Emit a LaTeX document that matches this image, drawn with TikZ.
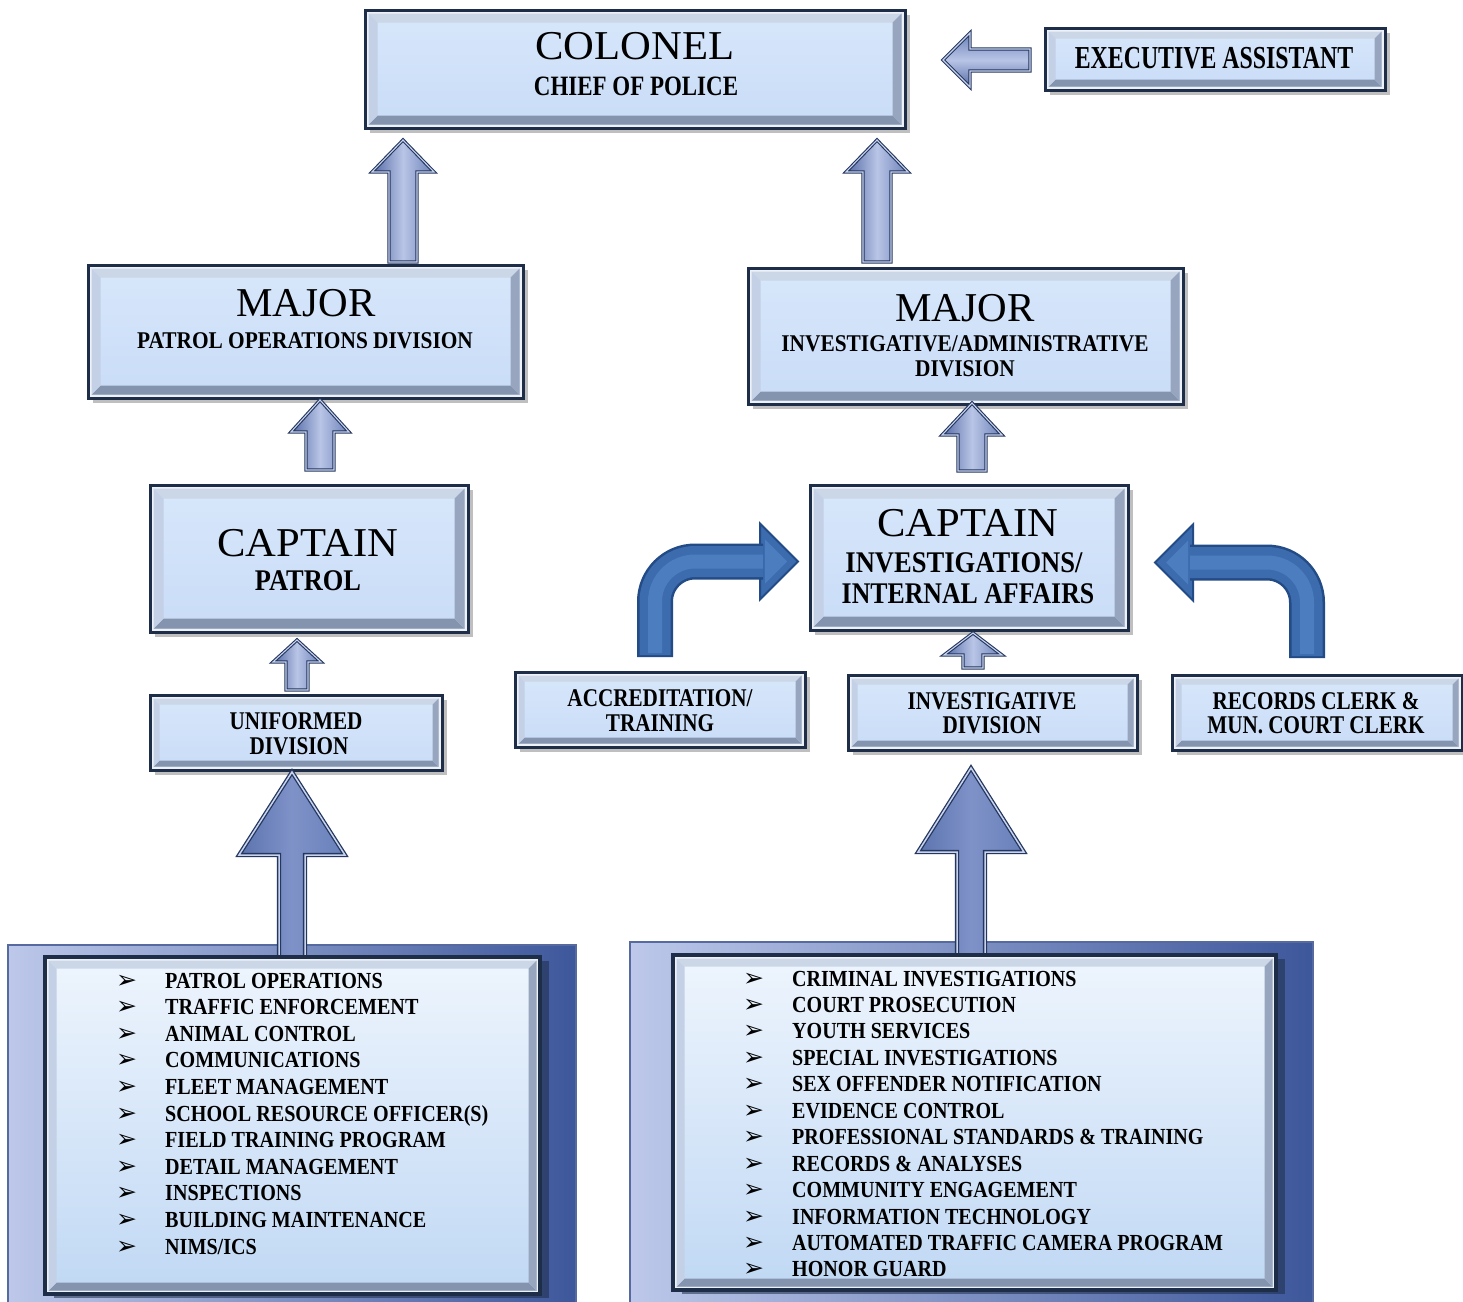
\documentclass[tikz,border=0pt]{standalone}
\usepackage{fontspec}
\setmainfont{Liberation Serif}
\newfontfamily\dejavu{DejaVu Sans}
\usepackage{graphicx}
\usetikzlibrary{calc,shadows}

\definecolor{bordc}{HTML}{1E2D48}
\definecolor{ringc}{HTML}{EEF2F7}
\definecolor{bevT}{HTML}{CBD6E7}
\definecolor{bevL}{HTML}{C3D0E6}
\definecolor{bevR}{HTML}{97A5BE}
\definecolor{bevB}{HTML}{8494AF}
\definecolor{faceT}{HTML}{D7E7FB}
\definecolor{faceB}{HTML}{C9DCF7}
\definecolor{arrD}{HTML}{24375F}
\definecolor{arrL}{HTML}{546AA6}
\definecolor{arrM}{HTML}{B9C5E6}
\definecolor{arrR}{HTML}{6A80B8}
\definecolor{arrH}{HTML}{C9D3EE}
\definecolor{bigL}{HTML}{5B73AE}
\definecolor{bigM}{HTML}{7F92C8}
\definecolor{bigR}{HTML}{6780B9}
\definecolor{cvD}{HTML}{234B86}
\definecolor{cvM}{HTML}{3C6CAE}
\definecolor{cvH}{HTML}{4C7DBE}
\definecolor{frL}{HTML}{BDC8EA}
\definecolor{frR}{HTML}{3D579B}
\definecolor{frE}{HTML}{566AA0}
\definecolor{listT}{HTML}{EEF5FD}
\definecolor{listB}{HTML}{C0D8F4}

\newcommand\cx[2]{\scalebox{#1}[1]{#2}}

\newcommand\bevels[1]{%
  \draw[ringc, line width=2pt] let \p1=(path picture bounding box.south west), \p2=(path picture bounding box.north east) in
    (\x1+2.5pt,\y1+2.5pt) rectangle (\x2-2.5pt,\y2-2.5pt);
  \fill[bevT] let \p1=(path picture bounding box.south west), \p2=(path picture bounding box.north east) in
    (\x1+3.5pt,\y2-3.5pt) -- (\x2-3.5pt,\y2-3.5pt) -- (\x2-3.5pt-#1pt,\y2-3.5pt-#1pt) -- (\x1+3.5pt+#1pt,\y2-3.5pt-#1pt) -- cycle;
  \fill[bevB] let \p1=(path picture bounding box.south west), \p2=(path picture bounding box.north east) in
    (\x1+3.5pt,\y1+3.5pt) -- (\x2-3.5pt,\y1+3.5pt) -- (\x2-3.5pt-#1pt,\y1+3.5pt+#1pt) -- (\x1+3.5pt+#1pt,\y1+3.5pt+#1pt) -- cycle;
  \fill[bevL] let \p1=(path picture bounding box.south west), \p2=(path picture bounding box.north east) in
    (\x1+3.5pt,\y1+3.5pt) -- (\x1+3.5pt,\y2-3.5pt) -- (\x1+3.5pt+#1pt,\y2-3.5pt-#1pt) -- (\x1+3.5pt+#1pt,\y1+3.5pt+#1pt) -- cycle;
  \fill[bevR] let \p1=(path picture bounding box.south west), \p2=(path picture bounding box.north east) in
    (\x2-3.5pt,\y1+3.5pt) -- (\x2-3.5pt,\y2-3.5pt) -- (\x2-3.5pt-#1pt,\y2-3.5pt-#1pt) -- (\x2-3.5pt-#1pt,\y1+3.5pt+#1pt) -- cycle;
}

\newcommand\uparr[6]{% style, base, tip, head half, shaft half, head length
  \draw[#1] let \p1=(#2), \p2=(#3) in
    (\x2-#5pt,\y1) -- (\x2-#5pt,\y2-#6pt) -- (\x2-#4pt,\y2-#6pt) -- (\x2,\y2)
    -- (\x2+#4pt,\y2-#6pt) -- (\x2+#5pt,\y2-#6pt) -- (\x2+#5pt,\y1) -- cycle;
}
\newcommand\leftarr[6]{% style, base, tip, head half, shaft half, head length
  \draw[#1] let \p1=(#2), \p2=(#3) in
    (\x1,\y2-#5pt) -- (\x2+#6pt,\y2-#5pt) -- (\x2+#6pt,\y2-#4pt) -- (\x2,\y2)
    -- (\x2+#6pt,\y2+#4pt) -- (\x2+#6pt,\y2+#5pt) -- (\x1,\y2+#5pt) -- cycle;
}

\tikzset{
  bev/.style={rectangle, draw=bordc, line width=3pt, top color=faceT, bottom color=faceB,
    inner sep=0pt, outer sep=0pt,
    general shadow={fill=black, opacity=0.25, shadow xshift=5pt, shadow yshift=-5pt},
    path picture={\bevels{#1}}},
  bev/.default=9,
  listbox/.style={rectangle, draw=bordc, line width=3.5pt, top color=listT, bottom color=listB,
    inner sep=0pt, outer sep=0pt,
    general shadow={fill=bordc, opacity=0.55, shadow xshift=9pt, shadow yshift=-4pt},
    path picture={\bevels{8}}},
  frame/.style={rectangle, draw=frE, line width=1.5pt, left color=frL, right color=frR,
    inner sep=0pt, outer sep=0pt},
  ttl/.style={font=\fontsize{41}{41}\selectfont, anchor=base, inner sep=0pt},
  sb/.style={font=\fontsize{#1}{#1}\selectfont\bfseries, anchor=base, inner sep=0pt},
  itm/.style={font=\fontsize{23}{23}\selectfont\bfseries, anchor=base west, inner sep=0pt},
  bul/.style={font=\dejavu\fontsize{25}{25}\selectfont, anchor=base west, inner sep=0pt},
  blk/.style={draw=arrD, line width=1.1pt, double=arrH, double distance=1.1pt, line join=miter,
    left color=arrL, right color=arrR, middle color=arrM},
  blkh/.style={draw=arrD, line width=1.1pt, double=arrH, double distance=1.1pt, line join=miter,
    top color=arrR, bottom color=arrL, middle color=arrM},
  blkbig/.style={draw=arrD, line width=1.3pt, double=arrH, double distance=1.5pt, line join=miter,
    left color=bigL, right color=bigR, middle color=bigM},
}

\begin{document}
\begin{tikzpicture}[x=1pt, y=-1pt]
\path[use as bounding box, fill=white] (0,0) rectangle (1463,1301);

% ---------- boxes ----------
\node[bev=9, minimum width=540pt, minimum height=118pt] (colonel) at (635,69) {};
\node[bev=7, minimum width=340pt, minimum height=62pt] (exec) at (1215,59) {};
\node[bev=9, minimum width=435pt, minimum height=133pt] (majL) at (305.5,331.5) {};
\node[bev=9, minimum width=435pt, minimum height=136pt] (majR) at (965.5,336) {};
\node[bev=10, minimum width=318pt, minimum height=147pt] (captL) at (309,558.5) {};
\node[bev=10, minimum width=318pt, minimum height=145pt] (captR) at (969,557.5) {};
\node[bev=6, minimum width=292pt, minimum height=75pt] (unif) at (296,732.5) {};
\node[bev=6, minimum width=290pt, minimum height=75pt] (accr) at (660,709.5) {};
\node[bev=6, minimum width=289pt, minimum height=75pt] (invdiv) at (992.5,712.5) {};
\node[bev=6, minimum width=290pt, minimum height=75pt] (rec) at (1317,712.5) {};

% ---------- box texts ----------
\node[ttl] (colT) at (635,59) {\cx{1.04}{COLONEL}};
\node[sb=28] (colS) at (636,95) {\cx{0.82}{CHIEF OF POLICE}};
\node[sb=32] (execT) at (1214,68) {\cx{0.745}{EXECUTIVE ASSISTANT}};
\node[ttl] (majLT) at (306,316) {MAJOR};
\node[sb=24] (majLS) at (305,348) {\cx{0.89}{PATROL OPERATIONS DIVISION}};
\node[ttl] (majRT) at (965,321) {MAJOR};
\node[sb=24] (majRS1) at (965,351) {\cx{0.89}{INVESTIGATIVE/ADMINISTRATIVE}};
\node[sb=24] (majRS2) at (965,376) {\cx{0.89}{DIVISION}};
\node[ttl] (capLT) at (308,556) {\cx{1.04}{CAPTAIN}};
\node[sb=30] (capLS) at (308,590) {\cx{0.88}{PATROL}};
\node[ttl] (capRT) at (968,536) {\cx{1.04}{CAPTAIN}};
\node[sb=30] (capRS1) at (964,572) {\cx{0.885}{INVESTIGATIONS/}};
\node[sb=30] (capRS2) at (968,603) {\cx{0.86}{INTERNAL AFFAIRS}};
\node[sb=25.5] (unifT1) at (296,729) {\cx{0.83}{UNIFORMED}};
\node[sb=25.5] (unifT2) at (299,754) {\cx{0.83}{DIVISION}};
\node[sb=25.5] (accrT1) at (660,706) {\cx{0.83}{ACCREDITATION/}};
\node[sb=25.5] (accrT2) at (660,731) {\cx{0.83}{TRAINING}};
\node[sb=25.5] (invT1) at (992,709) {\cx{0.83}{INVESTIGATIVE}};
\node[sb=25.5] (invT2) at (992,733) {\cx{0.83}{DIVISION}};
\node[sb=25.5] (recT1) at (1316,709) {\cx{0.83}{RECORDS CLERK \&}};
\node[sb=25.5] (recT2) at (1316,733) {\cx{0.83}{MUN. COURT CLERK}};

% ---------- list frames ----------
\node[frame, minimum width=568pt, minimum height=380pt, anchor=north west] (frameL) at (8,945) {};
\node[frame, minimum width=683pt, minimum height=380pt, anchor=north west] (frameR) at (630,942) {};

% ---------- big arrows into list frames ----------
\coordinate (xA7) at (292,0);
\coordinate (xA8) at (971,0);
\uparr{blkbig}{$(frameL.north -| xA7)+(0,14)$}{$(unif.south -| xA7)+(0,2)$}{53}{13}{83}
\uparr{blkbig}{$(frameR.north -| xA8)+(0,14)$}{$(invdiv.south -| xA8)+(0,18)$}{53}{14}{84}

% ---------- inner list boxes ----------
\node[listbox, minimum width=495pt, minimum height=337pt, anchor=north west] (listL) at (45,957) {};
\node[listbox, minimum width=603pt, minimum height=335pt, anchor=north west] (listR) at (673,955) {};

\foreach \t [count=\i from 0] in {PATROL OPERATIONS, TRAFFIC ENFORCEMENT, ANIMAL CONTROL,
  COMMUNICATIONS, FLEET MANAGEMENT, SCHOOL RESOURCE OFFICER(S), FIELD TRAINING PROGRAM,
  DETAIL MANAGEMENT, INSPECTIONS, BUILDING MAINTENANCE, NIMS/ICS} {
  \node[bul] (lb\i) at (116,{988+26.6*\i}) {➢};
  \node[itm] (li\i) at (165,{988+26.6*\i}) {\cx{0.875}{\t}};
}
\foreach \t [count=\i from 0] in {CRIMINAL INVESTIGATIONS, COURT PROSECUTION, YOUTH SERVICES,
  SPECIAL INVESTIGATIONS, SEX OFFENDER NOTIFICATION, EVIDENCE CONTROL,
  PROFESSIONAL STANDARDS \& TRAINING, RECORDS \& ANALYSES, COMMUNITY ENGAGEMENT,
  INFORMATION TECHNOLOGY, AUTOMATED TRAFFIC CAMERA PROGRAM, HONOR GUARD} {
  \node[bul] (rb\i) at (743,{986+26.45*\i}) {➢};
  \node[itm] (ri\i) at (792,{986+26.45*\i}) {\cx{0.872}{\t}};
}

% ---------- straight block arrows ----------
\coordinate (xA1) at (403,0);
\coordinate (xA2) at (877,0);
\coordinate (xA3) at (320,0);
\coordinate (xA4) at (972,0);
\coordinate (xA5) at (297,0);
\coordinate (xA6) at (973,0);
\uparr{blk}{$(majL.north -| xA1)+(0,-3)$}{$(colonel.south -| xA1)+(0,12)$}{31}{14}{32}
\uparr{blk}{$(majR.north -| xA2)+(0,-6)$}{$(colonel.south -| xA2)+(0,12)$}{31}{14}{32}
\uparr{blk}{$(captL.north -| xA3)+(0,-15)$}{$(majL.south -| xA3)+(0,2)$}{29}{14}{32}
\uparr{blk}{$(captR.north -| xA4)+(0,-14)$}{$(majR.south -| xA4)+(0,-1)$}{30}{14}{32}
\uparr{blk}{$(unif.north -| xA5)+(0,-5)$}{$(captL.south -| xA5)+(0,8)$}{24}{11}{22}
\uparr{blk}{$(invdiv.north -| xA6)+(0,-7)$}{$(captR.south -| xA6)+(0,3)$}{29}{10}{22}
\leftarr{blkh}{$(exec.west)+(-15,1)$}{$(colonel.east)+(38,-9)$}{27}{11}{27}

% ---------- curved arrows ----------
\coordinate (cvAs) at ($(accr.north)+(-5,-15)$);
\coordinate (cvAt) at ($(captR.west)+(-12,4)$);
\coordinate (cvRs) at ($(rec.north)+(-10,-17)$);
\coordinate (cvRt) at ($(captR.east)+(27,5)$);

\filldraw[fill=cvM, draw=cvD, line width=2pt, line join=miter]
  ($(cvAt)+(-38,-38)$) -- (cvAt) -- ($(cvAt)+(-38,38)$) -- cycle;
\fill[cvH] ($(cvAt)+(-33,-22)$) -- ($(cvAt)+(-11,0)$) -- ($(cvAt)+(-33,22)$) -- cycle;
\draw[cvD, line width=36pt, rounded corners=40pt] (cvAs) |- ($(cvAt)+(-35,0)$);
\draw[cvM, line width=31pt, rounded corners=40pt] ($(cvAs)+(0,-2)$) |- ($(cvAt)+(-35,0)$);
\draw[cvH, line width=14pt, rounded corners=40pt] ($(cvAs)+(0,-4)$) |- ($(cvAt)+(-35,0)$);

\filldraw[fill=cvM, draw=cvD, line width=2pt, line join=miter]
  ($(cvRt)+(38,-38)$) -- (cvRt) -- ($(cvRt)+(38,38)$) -- cycle;
\fill[cvH] ($(cvRt)+(33,-22)$) -- ($(cvRt)+(11,0)$) -- ($(cvRt)+(33,22)$) -- cycle;
\draw[cvD, line width=36pt, rounded corners=40pt] (cvRs) |- ($(cvRt)+(35,0)$);
\draw[cvM, line width=31pt, rounded corners=40pt] ($(cvRs)+(0,-2)$) |- ($(cvRt)+(35,0)$);
\draw[cvH, line width=14pt, rounded corners=40pt] ($(cvRs)+(0,-4)$) |- ($(cvRt)+(35,0)$);
\end{tikzpicture}
\end{document}
